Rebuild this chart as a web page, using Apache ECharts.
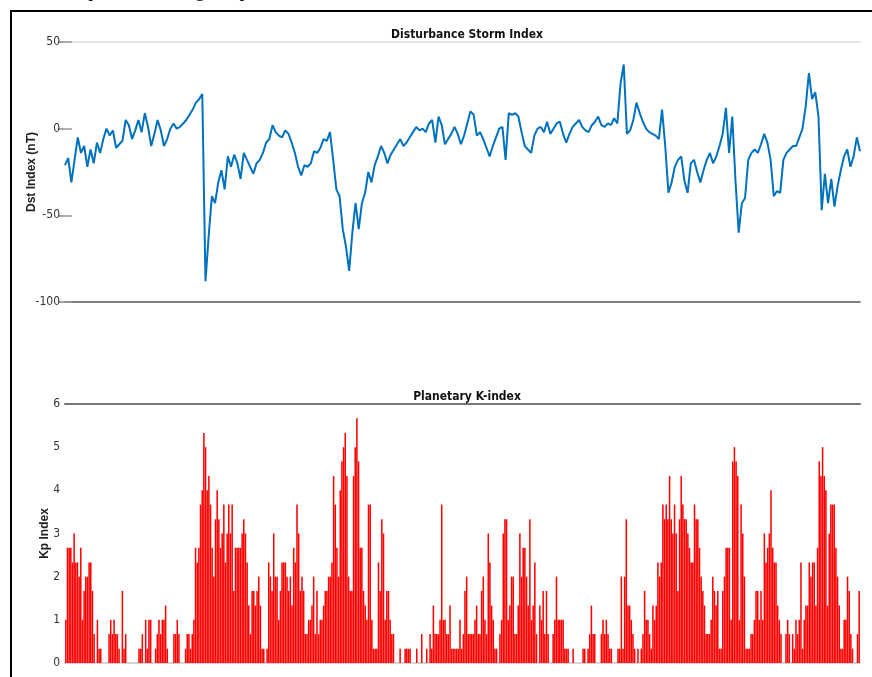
<!DOCTYPE html>
<html>
<head>
<meta charset="utf-8">
<script src="https://cdn.jsdelivr.net/npm/echarts@6/dist/echarts.min.js"></script>
<style>
  html, body { margin: 0; padding: 0; background: #fff; }
  #echarts { width: 872px; height: 677px; }
</style>
</head>
<body>
<div id="echarts"></div>
<script>
// Dst index (3-hour steps)
var dstValues = [
  -21, -17, -31, -18, -5, -14, -10, -22, -12, -20,
  -8, -14, -6, 0, -4, -1, -11, -9, -7, 5,
  2, -6, -1, 5, -2, 9, 1, -10, -3, 5,
  -1, -10, -6, 0, 3, 0, 1, 3, 5, 8,
  11, 15, 17, 20, -88, -62, -39, -43, -31, -24,
  -35, -16, -22, -15, -20, -29, -14, -18, -22, -26,
  -20, -18, -14, -8, -6, 2, -2, -4, -5, -1,
  -3, -8, -14, -22, -27, -21, -22, -20, -13, -14,
  -11, -6, -7, -2, -18, -35, -39, -58, -68, -82,
  -60, -43, -58, -43, -37, -25, -31, -21, -16, -10,
  -14, -20, -15, -12, -9, -6, -10, -8, -5, -2,
  1, -1, 0, -2, 3, 5, -8, 7, 2, -9,
  -6, -3, 1, -3, -9, -4, 3, 10, 8, -4,
  -2, -6, -11, -16, -10, -5, 0, 1, -18, 9,
  8, 9, 7, -2, -10, -12, -14, -4, 0, 1,
  -2, 4, -3, 0, 3, 4, -3, -8, -3, 1,
  3, 5, 1, -1, -2, 2, 4, 7, 2, 1,
  3, 2, 6, 3, 26, 37, -3, -1, 5, 15,
  9, 4, 0, -2, -3, -4, -6, 11, -10, -37,
  -31, -22, -18, -16, -30, -37, -20, -18, -25, -31,
  -24, -18, -14, -20, -16, -10, -3, 12, -14, 7,
  -30, -60, -43, -40, -18, -14, -12, -14, -9, -3,
  -8, -18, -39, -36, -37, -18, -14, -12, -10, -10,
  -5, 0, 13, 32, 17, 21, 7, -47, -26, -43,
  -29, -45, -33, -24, -16, -12, -22, -16, -5, -13
];

// Kp index
var kpValues = [
  1, 2.67, 2.67, 2.67, 2.33, 3, 2.33, 2.33, 2, 2.67, 1, 1.67, 2, 2, 2.33, 2.33, 1.67, 0.67, 0,
  1, 0.33, 0.33, 0, 0, 0, 0, 0.67, 1, 0.67, 1, 0.67, 0.67, 0.33, 0, 1.67, 0.33, 0.67, 0, 0,
  0, 0, 0, 0, 0, 0.33, 0.33, 0.67, 0, 1, 0.33, 1, 1, 0, 0, 0.33, 0.67, 1, 0.67, 1, 1,
  1.33, 0.33, 0, 0, 0, 0.67, 0.67, 1, 0.67, 0, 0, 0, 0.33, 0.67, 0.67, 0.33, 0.67, 1, 2.67,
  2.33, 2.67, 3.67, 4, 5.33, 5, 4, 4.33, 3.67, 2.67, 2, 3.33, 4, 3.33, 2.67, 3, 3.67, 2.33, 3, 3.67,
  3, 3.67, 1.67, 2.67, 2.67, 2.67, 2.67, 3, 3.33, 3, 2.33, 1.33, 0.67, 1.67, 1.67, 1.33, 1.67, 2, 1.33, 0.33,
  0.33, 0, 0.33, 2.33, 2, 1.67, 3, 2, 2, 1, 1.67, 2.33, 2.33, 2.33, 2, 1.67, 2, 1.33, 2.67, 2.33,
  3.67, 3, 1.67, 2, 1.67, 0.67, 0.67, 1, 1, 1.33, 2, 0.67, 1.67, 0.67, 1, 1, 1.33, 1.67, 1.67, 2,
  2, 2.33, 4.33, 3.67, 2.67, 2, 4, 4.67, 5, 5.33, 4.33, 2, 1.67, 1.67, 4.33, 5, 5.67, 4.67, 2.67, 2.67,
  1.67, 1.33, 1, 3.67, 3.67, 1, 0.33, 0.33, 0.33, 2.33, 1.67, 3.33, 3, 1, 1.67, 1.67, 1, 0.67, 0.67, 0,
  0, 0, 0.33, 0, 0, 0.33, 0.33, 0.33, 0.33, 0, 0, 0, 0.33, 0, 0, 0.67, 0, 0, 0.33, 0,
  0.67, 0.33, 1.33, 0.67, 0.67, 0.67, 1, 3.67, 1, 1, 0.67, 0.67, 1.33, 0.33, 0.33, 0.33, 0.33, 0.33, 1, 0.33,
  0.67, 1.67, 2, 0.67, 0.67, 0.67, 0.67, 1, 1.33, 0.67, 0.67, 1.67, 2, 1, 0.67, 3, 2.33, 1.33, 1, 0.33,
  0.33, 0, 0.67, 1, 3, 3.33, 3.33, 1, 1.33, 2, 2, 0.67, 0.67, 1.33, 3, 2, 2.67, 2.67, 2, 1.33,
  3.33, 1, 1.33, 2.33, 0.67, 0, 1.33, 1, 1.67, 0.67, 1.67, 0.67, 0, 0, 0.67, 1, 2, 1, 1, 1,
  1, 0.33, 0.33, 0.33, 0, 0, 0.33, 0, 0, 0, 0, 0, 0.33, 0.33, 0, 0.33, 0.67, 1.33, 0.67, 0.67,
  0, 0, 0, 0.67, 1, 0.67, 1, 0.67, 0.33, 0.33, 0, 0, 0, 0.33, 0.33, 2, 0.33, 2, 3.33, 1.33,
  1.33, 1, 0.67, 0.33, 0, 0.33, 0, 0.33, 0.67, 1.67, 1, 1, 0.67, 0.33, 1.33, 1, 1.33, 2.33, 2, 2.33,
  3.67, 3.33, 3.67, 3.33, 4.33, 3.33, 3, 3.67, 3, 1.67, 3.33, 4.33, 3.67, 3.33, 3.33, 3, 2.67, 2.33, 2.33, 3.67,
  3.33, 3.33, 2.67, 2, 1.67, 1.33, 0.67, 0.67, 0.67, 1, 2, 1.67, 1.33, 1.67, 0.33, 0.33, 1.67, 2, 2.67, 2.67,
  2.67, 1, 4.67, 5, 4.67, 4.33, 1, 3.67, 3, 2, 0.33, 0.33, 0.33, 0.67, 0.67, 1, 1.67, 1.67, 1, 1.67,
  1, 3, 2.33, 2.67, 3, 4, 2.67, 2.33, 2.33, 1.33, 1, 0.67, 0, 0, 0.67, 1, 0.67, 0, 0.67, 0.33,
  1, 0.67, 1, 2.33, 0.33, 1, 1.33, 1.33, 2.33, 2, 2.33, 2.33, 1.33, 2.67, 4.67, 4.33, 5, 4.33, 4, 1.33,
  3, 3.67, 3.67, 3.67, 2.67, 2, 1.33, 0.33, 0.33, 1, 1, 2, 1.67, 0.67, 0.33, 0, 0, 0.67, 1.67
];

var dstTicks = [-100, -50, 0, 50];
var kpTicks = [0, 1, 2, 3, 4, 5, 6];

var dstData = [];
dstValues.forEach(function (v, i) {
  dstData.push([i, v]);
});
var kpCats = [];
kpValues.forEach(function (v, i) {
  kpCats.push(i);
});

var narrow = "'Liberation Sans Narrow', 'DejaVu Sans Condensed', 'Roboto Condensed', sans-serif";
var nameFont = { fontFamily: 'Liberation Sans, Arial, sans-serif', fontSize: 12, fontWeight: 'bold', color: '#222' };

var myChart = echarts.init(document.getElementById('echarts'), null, { renderer: 'canvas' });

myChart.setOption({
  animation: false,
  backgroundColor: '#fff',
  title: [
    {
      text: 'Disturbance Storm Index',
      left: 462, top: 24, textAlign: 'center',
      textStyle: { fontFamily: narrow, fontSize: 12, fontWeight: 'bold', color: '#111' }
    },
    {
      text: 'Planetary K-index',
      left: 462, top: 386, textAlign: 'center',
      textStyle: { fontFamily: narrow, fontSize: 12, fontWeight: 'bold', color: '#111' }
    }
  ],
  graphic: [
    {
      type: 'rect',
      shape: { x: 11, y: 11, width: 870, height: 700 },
      style: { fill: 'none', stroke: '#000', lineWidth: 2 }
    },
    {
      type: 'text', x: 60, y: -9,
      style: {
        text: 'ata plot for during the period',
        font: '20px "Liberation Serif", serif',
        fill: '#000', verticalAlign: 'middle'
      }
    }
  ],
  grid: [
    { left: 65, right: 12, top: 42, height: 260 },
    { left: 65, right: 12, top: 404, height: 259 }
  ],
  xAxis: [
    {
      gridIndex: 0, type: 'value', min: 0, max: dstValues.length - 1,
      axisLine: { onZero: false, lineStyle: { color: '#555', width: 1.5 } },
      axisTick: { show: false }, axisLabel: { show: false }, splitLine: { show: false }
    },
    {
      gridIndex: 0, type: 'value', position: 'top', min: 0, max: dstValues.length - 1,
      axisLine: { onZero: false, lineStyle: { color: '#e6e6e6', width: 2 } },
      axisTick: { show: false }, axisLabel: { show: false }, splitLine: { show: false }
    },
    {
      gridIndex: 1, type: 'category', data: kpCats,
      axisLine: { onZero: false, lineStyle: { color: '#c8c8c8', width: 1.5 } },
      axisTick: { show: false }, axisLabel: { show: false }
    },
    {
      gridIndex: 1, type: 'category', data: kpCats, position: 'top',
      axisLine: { onZero: false, lineStyle: { color: '#777', width: 2 } },
      axisTick: { show: false }, axisLabel: { show: false }
    }
  ],
  yAxis: [
    {
      gridIndex: 0, type: 'value', min: dstTicks[0], max: dstTicks[dstTicks.length - 1], interval: 50,
      name: 'Dst Index (nT)', nameLocation: 'middle', nameGap: 27, nameMoveOverlap: false,
      nameTextStyle: nameFont,
      axisLine: { show: false },
      axisTick: { inside: true, length: 7, lineStyle: { color: '#999', width: 1.5 } },
      axisLabel: { margin: 5, fontFamily: narrow, fontSize: 12, color: '#333' },
      splitLine: { show: false }
    },
    {
      gridIndex: 0, type: 'value', position: 'right', min: dstTicks[0], max: dstTicks[dstTicks.length - 1], interval: 50,
      axisLine: { show: false },
      axisTick: { inside: true, length: 7, lineStyle: { color: '#888', width: 1.5 } },
      axisLabel: { show: false }, splitLine: { show: false }
    },
    {
      gridIndex: 1, type: 'value', min: kpTicks[0], max: kpTicks[kpTicks.length - 1], interval: 1,
      name: 'Kp Index', nameLocation: 'middle', nameGap: 14, nameMoveOverlap: false,
      nameTextStyle: nameFont,
      axisLine: { show: false },
      axisTick: { inside: true, length: 7, lineStyle: { color: '#999', width: 1.5 } },
      axisLabel: { margin: 5, fontFamily: narrow, fontSize: 12, color: '#333' },
      splitLine: { show: false }
    },
    {
      gridIndex: 1, type: 'value', position: 'right', min: kpTicks[0], max: kpTicks[kpTicks.length - 1], interval: 1,
      axisLine: { show: false },
      axisTick: { inside: true, length: 7, lineStyle: { color: '#888', width: 1.5 } },
      axisLabel: { show: false }, splitLine: { show: false }
    }
  ],
  series: [
    {
      name: 'Dst', type: 'line', xAxisIndex: 0, yAxisIndex: 0,
      data: dstData, showSymbol: false,
      lineStyle: { color: '#0072BD', width: 2 }
    },
    {
      name: 'Kp', type: 'bar', xAxisIndex: 2, yAxisIndex: 2,
      data: kpValues, barCategoryGap: '8%',
      itemStyle: { color: '#ff0000' }
    }
  ]
});
</script>
</body>
</html>
